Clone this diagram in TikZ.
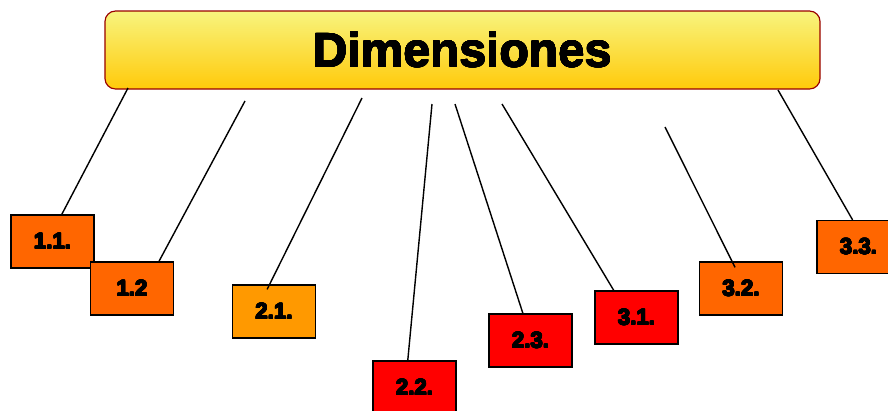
\documentclass[tikz,border=0pt]{standalone}
\usepackage{fontspec}
\setmainfont{Liberation Sans}
\usepackage{contour}
\contourlength{0.45pt}
\contournumber{16}
\usepackage{tikz}
\usetikzlibrary{calc}
\definecolor{naranja}{HTML}{FF6600}
\definecolor{naranjaclaro}{HTML}{FF9900}
\definecolor{rojo}{HTML}{FF0000}
\definecolor{bordetitulo}{HTML}{990000}
\definecolor{amarillosup}{HTML}{F8F47E}
\definecolor{amarilloinf}{HTML}{FFCA0A}
\newcommand{\etiq}[2][-4pt]{\raisebox{#1}{\contour{black}{#2}}}

\begin{document}
\begin{tikzpicture}[x=0.03cm,y=-0.03cm,
    caja/.style={draw=black,line width=1pt,minimum width=2.49cm,minimum height=1.59cm,
        inner sep=0pt,font=\bfseries\fontsize{19}{19}\selectfont},
    rama/.style={black,line width=1.2pt}]
			\useasboundingbox (0,0) rectangle (888,410);
			% titulo
			\node[draw=bordetitulo,line width=1pt,rounded corners=9pt,top color=amarillosup,bottom color=amarilloinf,
			  minimum width=21.45cm,minimum height=2.34cm,font=\bfseries\fontsize{41}{42}\selectfont] (dim) at (462.5,50)
			  {\contourlength{0.3pt}\contour{black}{Dimensiones}};
			% cajas
			\node[caja,fill=naranja] (b11) at (52.5,241.5) {\etiq{1.1.}};
			\node[caja,fill=naranja] (b12) at (132,288.5) {\etiq[-1pt]{1.2}};
			\node[caja,fill=naranjaclaro] (b21) at (274,311.5) {\etiq{2.1.}};
			\node[caja,fill=rojo] (b22) at (414.5,387.5) {\etiq{2.2.}};
			\node[caja,fill=rojo] (b23) at (530.5,340.5) {\etiq{2.3.}};
			\node[caja,fill=rojo] (b31) at (636.5,317.5) {\etiq{3.1.}};
			\node[caja,fill=naranja] (b32) at (741,288.5) {\etiq{3.2.}};
			\node[caja,fill=naranja] (b33) at (858.5,247) {\etiq{3.3.}};
			% extremos superiores
			\coordinate (t11) at (128,88);
			\coordinate (t12) at (245,101);
			\coordinate (t21) at (362,98);
			\coordinate (t22) at (432,104);
			\coordinate (t23) at (455,104);
			\coordinate (t31) at (502,104);
			\coordinate (t32) at (665,127);
			\coordinate (t33) at (778,90);
			% ramas
			\draw[rama] (t11) -- ($(b11.north west)!0.61!(b11.north east)$);
			\draw[rama] (t12) -- ($(b12.north west)!0.82!(b12.north east)$);
			\draw[rama] (t21) -- ($(b21.north west)!0.43!(b21.north east)+(-1,5)$);
			\draw[rama] (t22) -- ($(b22.north west)!0.42!(b22.north east)$);
			\draw[rama] (t23) -- ($(b23.north west)!0.41!(b23.north east)$);
			\draw[rama] (t31) -- ($(b31.north west)!0.23!(b31.north east)$);
			\draw[rama] (t32) -- ($(b32.north west)!0.40!(b32.north east)+(2.5,6)$);
			\draw[rama] (t33) -- ($(b33.north west)!0.43!(b33.north east)$);
		\end{tikzpicture}
\end{document}
